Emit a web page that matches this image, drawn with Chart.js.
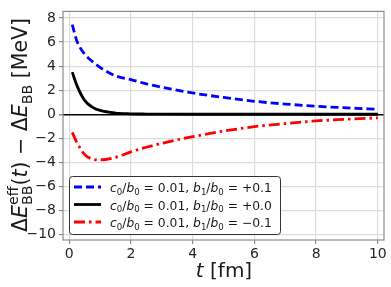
<!DOCTYPE html>
<html>
<head>
<meta charset="utf-8">
<script src="https://cdn.jsdelivr.net/npm/chart.js@4.4.1/dist/chart.umd.min.js"></script>
<style>
html, body { margin: 0; padding: 0; background: #fff; }
#wrap { width: 391px; height: 287px; }
</style>
</head>
<body>
<div id="wrap"><canvas id="effChart" width="391" height="287"></canvas></div>
<script>
// values
const tValues = [0.1, 0.25, 0.5, 0.75, 1, 1.5, 2, 2.5, 3, 4, 5, 6, 7, 8, 9, 10];
const plusValues = [7.45, 6.1, 5.0, 4.4, 3.9, 3.2, 2.88, 2.53, 2.25, 1.77, 1.4, 1.08, 0.85, 0.67, 0.53, 0.42];
const zeroValues = [3.5, 2.4, 1.15, 0.6, 0.32, 0.1, 0.04, 0.02, 0.01, 0, 0, 0, 0, 0, 0, 0];
const minusValues = [-1.5, -2.35, -3.35, -3.72, -3.79, -3.58, -3.12, -2.74, -2.41, -1.86, -1.4, -1.03, -0.77, -0.55, -0.41, -0.3];
const c0b0 = ['0.01', '0.01', '0.01'];
const b1b0 = ['+0.1', '+0.0', '\u22120.1'];
const xTicks = [0, 2, 4, 6, 8, 10];
const yTicks = [-10, -8, -6, -4, -2, 0, 2, 4, 6, 8];

const FONT = "'DejaVu Sans', sans-serif";

function toPoints(ys) {
    return tValues.map((t, i) => ({ x: t, y: ys[i] }));
}

function fmt(v) {
    return v < 0 ? '\u2212' + Math.abs(v) : String(v);
}

// small mathtext-like helper: parts are [text, kind]
function mathWidth(ctx, parts, size) {
    let w = 0;
    parts.forEach(p => {
        if (p[1] == 'subsup') {
            ctx.font = (size * 0.7) + 'px ' + FONT;
            w += Math.max(ctx.measureText(p[0][0]).width, ctx.measureText(p[0][1]).width);
        } else {
            let s = (p[1] == 'sub' || p[1] == 'sup') ? size * 0.7 : size;
            ctx.font = (p[1] == 'i' ? 'italic ' : '') + s + 'px ' + FONT;
            w += ctx.measureText(p[0]).width;
        }
    });
    return w;
}

function drawMath(ctx, parts, x, y, size) {
    let cx = x;
    ctx.textBaseline = 'alphabetic';
    ctx.textAlign = 'left';
    parts.forEach(p => {
        if (p[1] == 'subsup') {
            ctx.font = (size * 0.7) + 'px ' + FONT;
            ctx.fillText(p[0][0], cx, y - size * 0.42);
            ctx.fillText(p[0][1], cx, y + size * 0.25);
            cx += Math.max(ctx.measureText(p[0][0]).width, ctx.measureText(p[0][1]).width);
        } else if (p[1] == 'sub') {
            ctx.font = (size * 0.7) + 'px ' + FONT;
            ctx.fillText(p[0], cx, y + size * 0.22);
            cx += ctx.measureText(p[0]).width;
        } else {
            ctx.font = (p[1] == 'i' ? 'italic ' : '') + size + 'px ' + FONT;
            ctx.fillText(p[0], cx, y);
            cx += ctx.measureText(p[0]).width;
        }
    });
}

const frameAndLabels = {
    id: 'frameAndLabels',
    beforeDatasetsDraw(chart) {
        const a = chart.chartArea;
        const ctx = chart.ctx;
        ctx.save();
        ctx.strokeStyle = '#8c8c8c';
        ctx.lineWidth = 1.2;
        ctx.strokeRect(a.left, a.top, a.right - a.left, a.bottom - a.top);
        ctx.restore();
    },
    afterDraw(chart) {
        const ctx = chart.ctx;
        ctx.save();
        ctx.fillStyle = '#1a1a1a';

        // x title
        const xt = [['t', 'i'], [' [fm]', 'r']];
        const xw = mathWidth(ctx, xt, 20);
        drawMath(ctx, xt, 224 - xw / 2, 277, 20);

        // y title, rotated, sized to span the same length as the original
        const yt = [['\u0394', 'r'], ['E', 'i'], [['eff', 'BB'], 'subsup'], ['(', 'r'], ['t', 'i'], [')', 'r'],
                    [' \u2212 \u0394', 'r'], ['E', 'i'], ['BB', 'sub'], [' [MeV]', 'r']];
        const ys = 20 * 214 / mathWidth(ctx, yt, 20);
        const yw = mathWidth(ctx, yt, ys);
        ctx.save();
        ctx.translate(27, 125 + yw / 2);
        ctx.rotate(-Math.PI / 2);
        drawMath(ctx, yt, 0, 0, ys);
        ctx.restore();

        // legend
        const lx = 69, ly = 176, lw = 211, lh = 58;
        ctx.fillStyle = 'rgba(255,255,255,0.9)';
        ctx.strokeStyle = '#333';
        ctx.lineWidth = 1;
        ctx.beginPath();
        ctx.roundRect(lx + 0.5, ly + 0.5, lw, lh, 3);
        ctx.fill();
        ctx.stroke();
        chart.data.datasets.forEach((ds, i) => {
            const y = 187 + i * 17.5;
            ctx.strokeStyle = ds.borderColor;
            ctx.lineWidth = ds.borderWidth;
            ctx.setLineDash(ds.borderDash || []);
            ctx.beginPath();
            ctx.moveTo(74, y);
            ctx.lineTo(101, y);
            ctx.stroke();
            ctx.setLineDash([]);
            ctx.fillStyle = '#1a1a1a';
            const parts = [['c', 'i'], ['0', 'sub'], ['/', 'r'], ['b', 'i'], ['0', 'sub'], [' = ' + c0b0[i] + ', ', 'r'],
                           ['b', 'i'], ['1', 'sub'], ['/', 'r'], ['b', 'i'], ['0', 'sub'], [' = ' + b1b0[i], 'r']];
            const fs = Math.min(14, 14 * 162 / mathWidth(ctx, parts, 14));
            drawMath(ctx, parts, 110, y + 5, fs);
        });
        ctx.restore();
    }
};

new Chart(document.getElementById('effChart'), {
    type: 'line',
    data: {
        datasets: [
            { label: 'plus', data: toPoints(plusValues), borderColor: '#0000ff', borderWidth: 2.8, borderDash: [8, 4] },
            { label: 'zero', data: toPoints(zeroValues), borderColor: '#000000', borderWidth: 2.8 },
            { label: 'minus', data: toPoints(minusValues), borderColor: '#ff0000', borderWidth: 2.8, borderDash: [11, 4, 2.5, 4] }
        ]
    },
    options: {
        responsive: false,
        animation: false,
        layout: { padding: { top: 5, right: 7, left: 0, bottom: 0 } },
        elements: {
            point: { radius: 0 },
            line: { cubicInterpolationMode: 'monotone', fill: false }
        },
        plugins: { legend: { display: false }, tooltip: { enabled: false } },
        scales: {
            x: {
                type: 'linear',
                min: -0.2,
                max: 10.2,
                afterBuildTicks: s => { s.ticks = xTicks.map(v => ({ value: v })); },
                afterFit: s => { s.height = 47; },
                grid: { color: '#dcdcdc', lineWidth: 1.2, tickLength: 4, tickColor: '#8c8c8c' },
                border: { display: false },
                ticks: { font: { family: FONT, size: 14 }, color: '#262626', padding: 2, maxRotation: 0, callback: v => fmt(v) }
            },
            y: {
                type: 'linear',
                min: -10.45,
                max: 8.55,
                afterBuildTicks: s => { s.ticks = yTicks.map(v => ({ value: v })); },
                afterFit: s => { s.width = 63; },
                grid: {
                    color: c => (c.tick && c.tick.value === 0) ? '#000000' : '#dcdcdc',
                    lineWidth: c => (c.tick && c.tick.value === 0) ? 1.5 : 1.2,
                    tickLength: 4, tickColor: '#8c8c8c'
                },
                border: { display: false },
                ticks: { font: { family: FONT, size: 14 }, color: '#262626', padding: 3, callback: v => fmt(v) }
            }
        }
    },
    plugins: [frameAndLabels]
});
</script>
</body>
</html>
